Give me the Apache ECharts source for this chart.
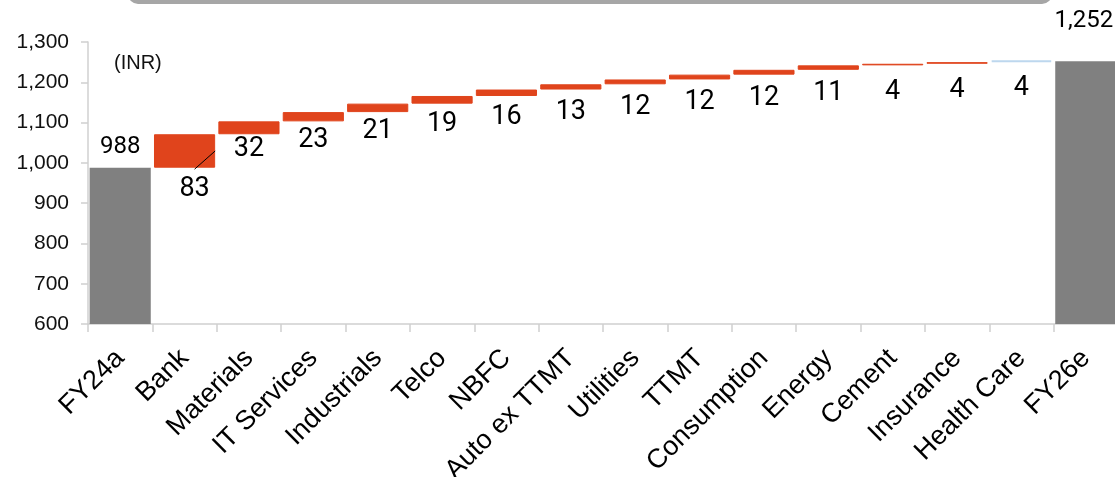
<!DOCTYPE html>
<html><head><meta charset="utf-8">
<script src="https://cdn.jsdelivr.net/npm/echarts@6/dist/echarts.min.js"></script>
<style>html,body{margin:0;padding:0;background:#fff;overflow:hidden}#c{width:1115px;height:477px}</style>
</head><body><div id="c"></div>
<script>
const categories = ['FY24a','Bank','Materials','IT Services','Industrials','Telco','NBFC','Auto ex TTMT','Utilities','TTMT','Consumption','Energy','Cement','Insurance','Health Care','FY26e'];
const startTotal = 988;
const endTotal = 1252;
const deltas = [null,83,32,23,21,19,16,13,12,12,12,11,4,4,4,null];
const yMin = 600, yMax = 1300, yStep = 100;
const unitLabel = '(INR)';

const ORANGE = '#E0441C', GREY = '#808080', LIGHTBLUE = '#BDD7EE';

// build waterfall stacks
const base = [], inc = [], tot = [];
let running = startTotal;
categories.forEach((c, i) => {
  if (i === 0) { base.push('-'); inc.push('-'); tot.push(startTotal); }
  else if (i === categories.length - 1) { base.push('-'); inc.push('-'); tot.push(endTotal); }
  else { base.push(running); inc.push(deltas[i]); running += deltas[i]; tot.push('-'); }
});

const incData = inc.map((v, i) => {
  if (v === '-') return '-';
  const item = { value: v };
  if (categories[i] === 'Health Care') item.itemStyle = { color: LIGHTBLUE, borderColor: LIGHTBLUE, borderWidth: 2 };
  if (categories[i] === 'Bank') item.label = { position: ['50%', 55], offset: [10, 0] };
  return item;
});
const totData = tot.map((v, i) => {
  if (v === '-') return '-';
  if (i === 0) return { value: v, label: { position: ['50%', -21] } };
  return { value: v, label: { position: ['50%', -40], offset: [-2, 0] } };
});

const chart = echarts.init(document.getElementById('c'), null, { renderer: 'canvas' });
const staticGraphics = [
  { type: 'rect', shape: { x: 128, y: -20, width: 924, height: 24, r: 10 }, style: { fill: '#a6a6a6' }, z: 10 },
  { type: 'text', x: 114, y: 63, style: { text: unitLabel, fontFamily: 'Liberation Sans', fontSize: 20, fill: '#111', verticalAlign: 'middle' }, z: 10 }
];
chart.setOption({
  animation: false,
  grid: { left: 88, top: 42, width: 1030, height: 282, containLabel: false, outerBoundsMode: 'none' },
  xAxis: {
    type: 'category', data: categories,
    axisLine: { lineStyle: { color: '#d0d0d0', width: 1.5 } },
    axisTick: { show: true, length: 8, lineStyle: { color: '#d0d0d0', width: 1.5 } },
    axisLabel: { interval: 0, rotate: 45, margin: 30, fontFamily: 'Liberation Sans', fontSize: 27, color: '#000' }
  },
  yAxis: {
    type: 'value', min: yMin, max: yMax, interval: yStep,
    splitLine: { show: false },
    axisLine: { show: true, lineStyle: { color: '#d0d0d0', width: 1.5 } },
    axisTick: { show: true, length: 7, lineStyle: { color: '#d0d0d0', width: 1.5 } },
    axisLabel: { margin: 19, fontFamily: 'Liberation Sans', fontSize: 21, color: '#111',
      formatter: v => v.toLocaleString('en-US') }
  },
  graphic: staticGraphics,
  series: [
    { type: 'bar', stack: 'w', data: base, barCategoryGap: '5%', itemStyle: { color: 'transparent' }, silent: true },
    { type: 'bar', stack: 'w', data: incData, itemStyle: { color: ORANGE, borderColor: ORANGE, borderWidth: 1 },
      label: { show: true, position: ['50%', 28], align: 'center', verticalAlign: 'middle',
        fontFamily: 'Roboto', fontSize: 27, color: '#000' } },
    { type: 'bar', stack: 'w', data: totData, itemStyle: { color: GREY },
      label: { show: true, align: 'center', verticalAlign: 'middle', fontFamily: 'Roboto', fontSize: 24, color: '#000',
        formatter: p => p.value.toLocaleString('en-US') } }
  ]
});

// leader line for the Bank label, positioned through the chart's own scales
const bi = categories.indexOf('Bank');
const bankTop = base[bi] + inc[bi];
const pMid = chart.convertToPixel({ gridIndex: 0 }, [bi, (base[bi] + bankTop) / 2]);
const pNext = chart.convertToPixel({ gridIndex: 0 }, [bi + 1, base[bi]]);
const pBot = chart.convertToPixel({ gridIndex: 0 }, [bi, base[bi]]);
const catW = pNext[0] - pBot[0];
const halfBar = catW * 0.95 / 2;
chart.setOption({
  graphic: staticGraphics.concat([
    { type: 'line', shape: { x1: pMid[0] + halfBar, y1: pMid[1], x2: pBot[0] + 10, y2: pBot[1] + 1.5 }, style: { stroke: '#000', lineWidth: 1 }, z: 10 }
  ])
});
</script></body></html>
